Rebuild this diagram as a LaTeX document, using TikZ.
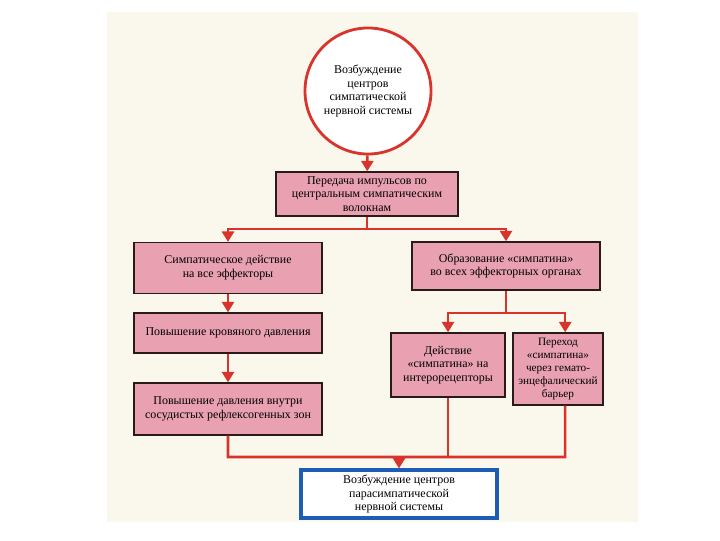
\documentclass[tikz,border=0pt]{standalone}
\usepackage{fontspec}
\setmainfont{Liberation Serif}
\usepackage{tikz}
\usetikzlibrary{arrows.meta,positioning,calc}
\definecolor{paper}{HTML}{FAF8EC}
\definecolor{boxpink}{HTML}{E9A1B2}
\definecolor{linered}{HTML}{D9342B}
\definecolor{frameblue}{HTML}{1E5DB4}
\definecolor{inkdark}{HTML}{2A1A1A}

\begin{document}
\begin{tikzpicture}[
  x=0.025cm, y=-0.025cm,
  font=\fontsize{8.5}{9.8}\selectfont,
  block/.style={draw=inkdark, line width=1pt, fill=boxpink, align=center, inner sep=2pt},
  start/.style={circle, draw=linered, line width=2pt, fill=white, align=center, minimum size=3.15cm, inner sep=0pt},
  finish/.style={draw=frameblue, line width=2.2pt, fill=white, align=center, minimum width=4.9cm, minimum height=1.2cm},
  link/.style={draw=linered, line width=1.8pt},
  arrow/.style={link, -{Triangle[length=2.6mm,width=3mm]}}
]
\useasboundingbox (0,0) rectangle (720,540);
\fill[paper] (107,12) rectangle (638,522);

\node[start] (excite) at (368,91) {Возбуждение\\центров\\симпатической\\нервной системы};
\node[block, minimum width=4.55cm, minimum height=1.1cm] (transfer) at (367,194) {Передача импульсов по\\центральным симпатическим\\волокнам};
\node[block, minimum width=4.7cm, minimum height=1.27cm] (effect) at (228,268) {Симпатическое действие\\на все эффекторы};
\node[block, minimum width=4.7cm, minimum height=1.2cm] (sympathin) at (506,266) {Образование «симпатина»\\во всех эффекторных органах};
\node[block, minimum width=4.7cm, minimum height=1cm] (pressure) at (228,333) {Повышение кровяного давления};
\node[block, minimum width=4.7cm, minimum height=1.3cm] (zones) at (228,409) {Повышение давления внутри\\сосудистых рефлексогенных зон};
\node[block, minimum width=2.85cm, minimum height=1.6cm] (receptors) at (448,365) {Действие\\«симпатина» на\\интерорецепторы};
\node[block, minimum width=2.25cm, minimum height=1.8cm, inner sep=1pt, font=\fontsize{8}{9.4}\selectfont] (barrier) at (558,369) {Переход\\«симпатина»\\через гемато-\\энцефалический\\барьер};
\node[finish] (para) at (399,494) {Возбуждение центров\\парасимпатической\\нервной системы};

\coordinate (split1) at (367,229);
\coordinate (split2) at (506,313);
\coordinate (joinL) at (228,457);
\coordinate (joinR) at (565,457);
\coordinate (join) at (399,457);

\draw[arrow] (excite) -- (transfer);
\draw[link] (transfer) -- (split1);
\draw[arrow] (split1) -| (effect.north);
\draw[arrow] (split1) -| (sympathin.north);
\draw[arrow] (effect) -- (pressure);
\draw[arrow] (pressure) -- (zones);
\draw[link] (sympathin) -- (split2);
\draw[arrow] (split2) -| (receptors.north);
\draw[arrow] (split2) -| ([xshift=0.18cm]barrier.north);
\draw[link] (zones) -- (joinL) -- (joinR) -- ([xshift=0.18cm]barrier.south);
\draw[link] (receptors) -- (receptors |- joinL);
\draw[arrow] (join) -- (para);
\end{tikzpicture}
\end{document}
